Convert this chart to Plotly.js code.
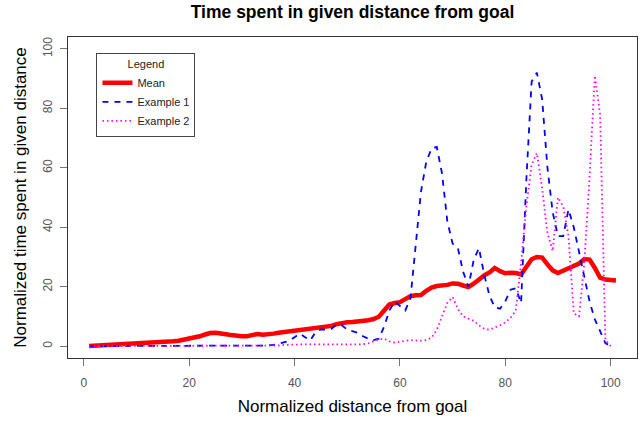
<!DOCTYPE html>
<html>
<head>
<meta charset="utf-8">
<script src="https://cdn.plot.ly/plotly-3.0.1.min.js"></script>
<style>html,body{margin:0;padding:0;background:#fff}#chart{width:643px;height:422px}</style>
</head>
<body>
<div id="chart"></div>
<script>
// distance index (x)
const xMean = Array.from({length: 101}, (_, i) => i + 1);
const xEx = Array.from({length: 100}, (_, i) => i + 1);

const meanValues = [
  0.0,0.1,0.2,0.2,0.2,0.3,0.3,0.4,0.5,0.6,
  0.7,0.8,1.0,1.1,1.2,1.4,1.6,1.8,2.1,2.5,
  2.9,3.3,3.9,4.4,4.5,4.4,4.0,3.7,3.4,3.3,
  3.3,3.7,4.1,3.8,3.9,4.2,4.5,4.7,4.9,5.2,
  5.4,5.6,5.8,6.0,6.1,6.3,6.8,7.4,7.8,8.0,
  8.1,8.2,8.4,8.7,9.1,9.9,12.0,14.0,14.5,14.8,
  15.8,16.8,17.1,17.2,18.6,19.7,20.2,20.3,20.6,21.1,
  21.0,20.4,19.9,21.0,22.5,23.8,24.8,26.3,25.2,24.5,
  24.7,24.6,24.1,26.5,29.2,30.0,29.8,27.5,25.5,24.6,
  25.5,26.3,27.2,27.8,29.3,29.1,26.3,23.0,22.4,22.3,
  22.1
];

const example1Values = [
  0,0,0,0,0,0,0,0,0,0,
  0,0,0,0,0,0,0,0,0.1,0.2,
  0.2,0.2,0.2,0.1,0.1,0,0,0,0,0,
  0,0.1,0.1,0.2,0.3,0.4,0.8,1.2,1.8,3.0,
  4.2,3.0,1.9,4.8,5.6,5.5,5.8,7.3,7.0,5.5,
  5.0,4.5,3.3,2.5,2.0,2.5,6.5,12.0,15.0,13.5,
  12.0,16.0,35.0,52.0,62.0,66.5,67.0,58.0,42.0,34.5,
  33.0,25.0,20.0,29.0,33.0,24.0,17.0,13.0,12.6,15.0,
  19.0,19.5,14.5,56.0,89.0,92.0,83.0,60.0,45.0,37.0,
  37.0,46.0,40.0,32.0,23.0,15.0,9.0,5.0,1.0,0.0
];

const example2Values = [
  0,0,0,0,0,0,0,0,0,0,
  0,0,0,0,0,0,0,0,0,0,
  0,0,0,0,0,0,0,0,0,0,
  0,0,0,0,0,0,0.2,0.4,0.5,0.6,
  0.6,0.6,0.6,0.6,0.6,0.6,0.6,0.6,0.5,0.5,
  0.5,0.5,0.6,0.9,1.5,2.3,2.5,1.6,1.2,1.4,
  1.8,2.0,1.9,1.8,2.0,2.8,5.5,10.0,14.5,16.5,
  12.5,10.0,9.2,8.5,7.0,5.8,5.5,6.2,7.0,8.0,
  9.5,12.0,28.0,47.0,61.0,65.0,53.0,38.0,32.0,50.0,
  47.0,37.0,11.0,10.0,28.0,57.0,91.0,78.0,2.0,0.0
];

const seriesNames = ["Mean", "Example 1", "Example 2"];
const xTicks = [0, 20, 40, 60, 80, 100];
const yTicks = [0, 20, 40, 60, 80, 100];

const FONT = "Liberation Sans, Arial, sans-serif";

const traces = [
  {x: xMean, y: meanValues, name: seriesNames[0], type: "scatter", mode: "lines",
   line: {color: "#ff0000", width: 4.5}},
  {x: xEx, y: example1Values, name: seriesNames[1], type: "scatter", mode: "lines",
   line: {color: "#0000ff", width: 1.8, dash: "6px,6px"}},
  {x: xEx, y: example2Values, name: seriesNames[2], type: "scatter", mode: "lines",
   line: {color: "#ff00ff", width: 1.8, dash: "1.5px,3px"}}
];

const axisCommon = {
  showgrid: false, zeroline: false,
  showline: true, mirror: true, linecolor: "#333", linewidth: 1,
  ticks: "outside", ticklen: 7, tickcolor: "#777", tickwidth: 1,
  tickfont: {family: FONT, size: 12, color: "#555"}
};

const layout = {
  width: 643, height: 422,
  margin: {l: 68, r: 6, t: 37, b: 64},
  paper_bgcolor: "#fff", plot_bgcolor: "#fff",
  font: {family: FONT, color: "#000"},
  title: {text: "Time spent in given distance from goal",
          font: {family: FONT, size: 17.5, weight: "bold", color: "#000"},
          x: 0.5, xref: "paper", xanchor: "center",
          y: 1 - 12/422, yref: "container", yanchor: "middle"},
  xaxis: Object.assign({}, axisCommon, {
    range: [-3, 105], tickmode: "array", tickvals: xTicks,
    ticklabelstandoff: 7,
    title: {text: "Normalized distance from goal", font: {family: FONT, size: 17, color: "#000"}, standoff: 10}
  }),
  yaxis: Object.assign({}, axisCommon, {
    range: [-4, 104], tickmode: "array", tickvals: yTicks, tickangle: -90,
    ticklabelstandoff: 3,
    title: {text: "Normalized time spent in given distance", font: {family: FONT, size: 17, color: "#000"}, standoff: 10}
  }),
  showlegend: true,
  legend: {
    x: 0.05, y: 0.95, xanchor: "left", yanchor: "top",
    bgcolor: "#fff", bordercolor: "#444", borderwidth: 1,
    font: {family: FONT, size: 11, color: "#222"},
    title: {text: "Legend", side: "top center", font: {family: FONT, size: 11, color: "#222"}}
  }
};

Plotly.newPlot("chart", traces, layout, {staticPlot: true, displayModeBar: false});
</script>
</body>
</html>
